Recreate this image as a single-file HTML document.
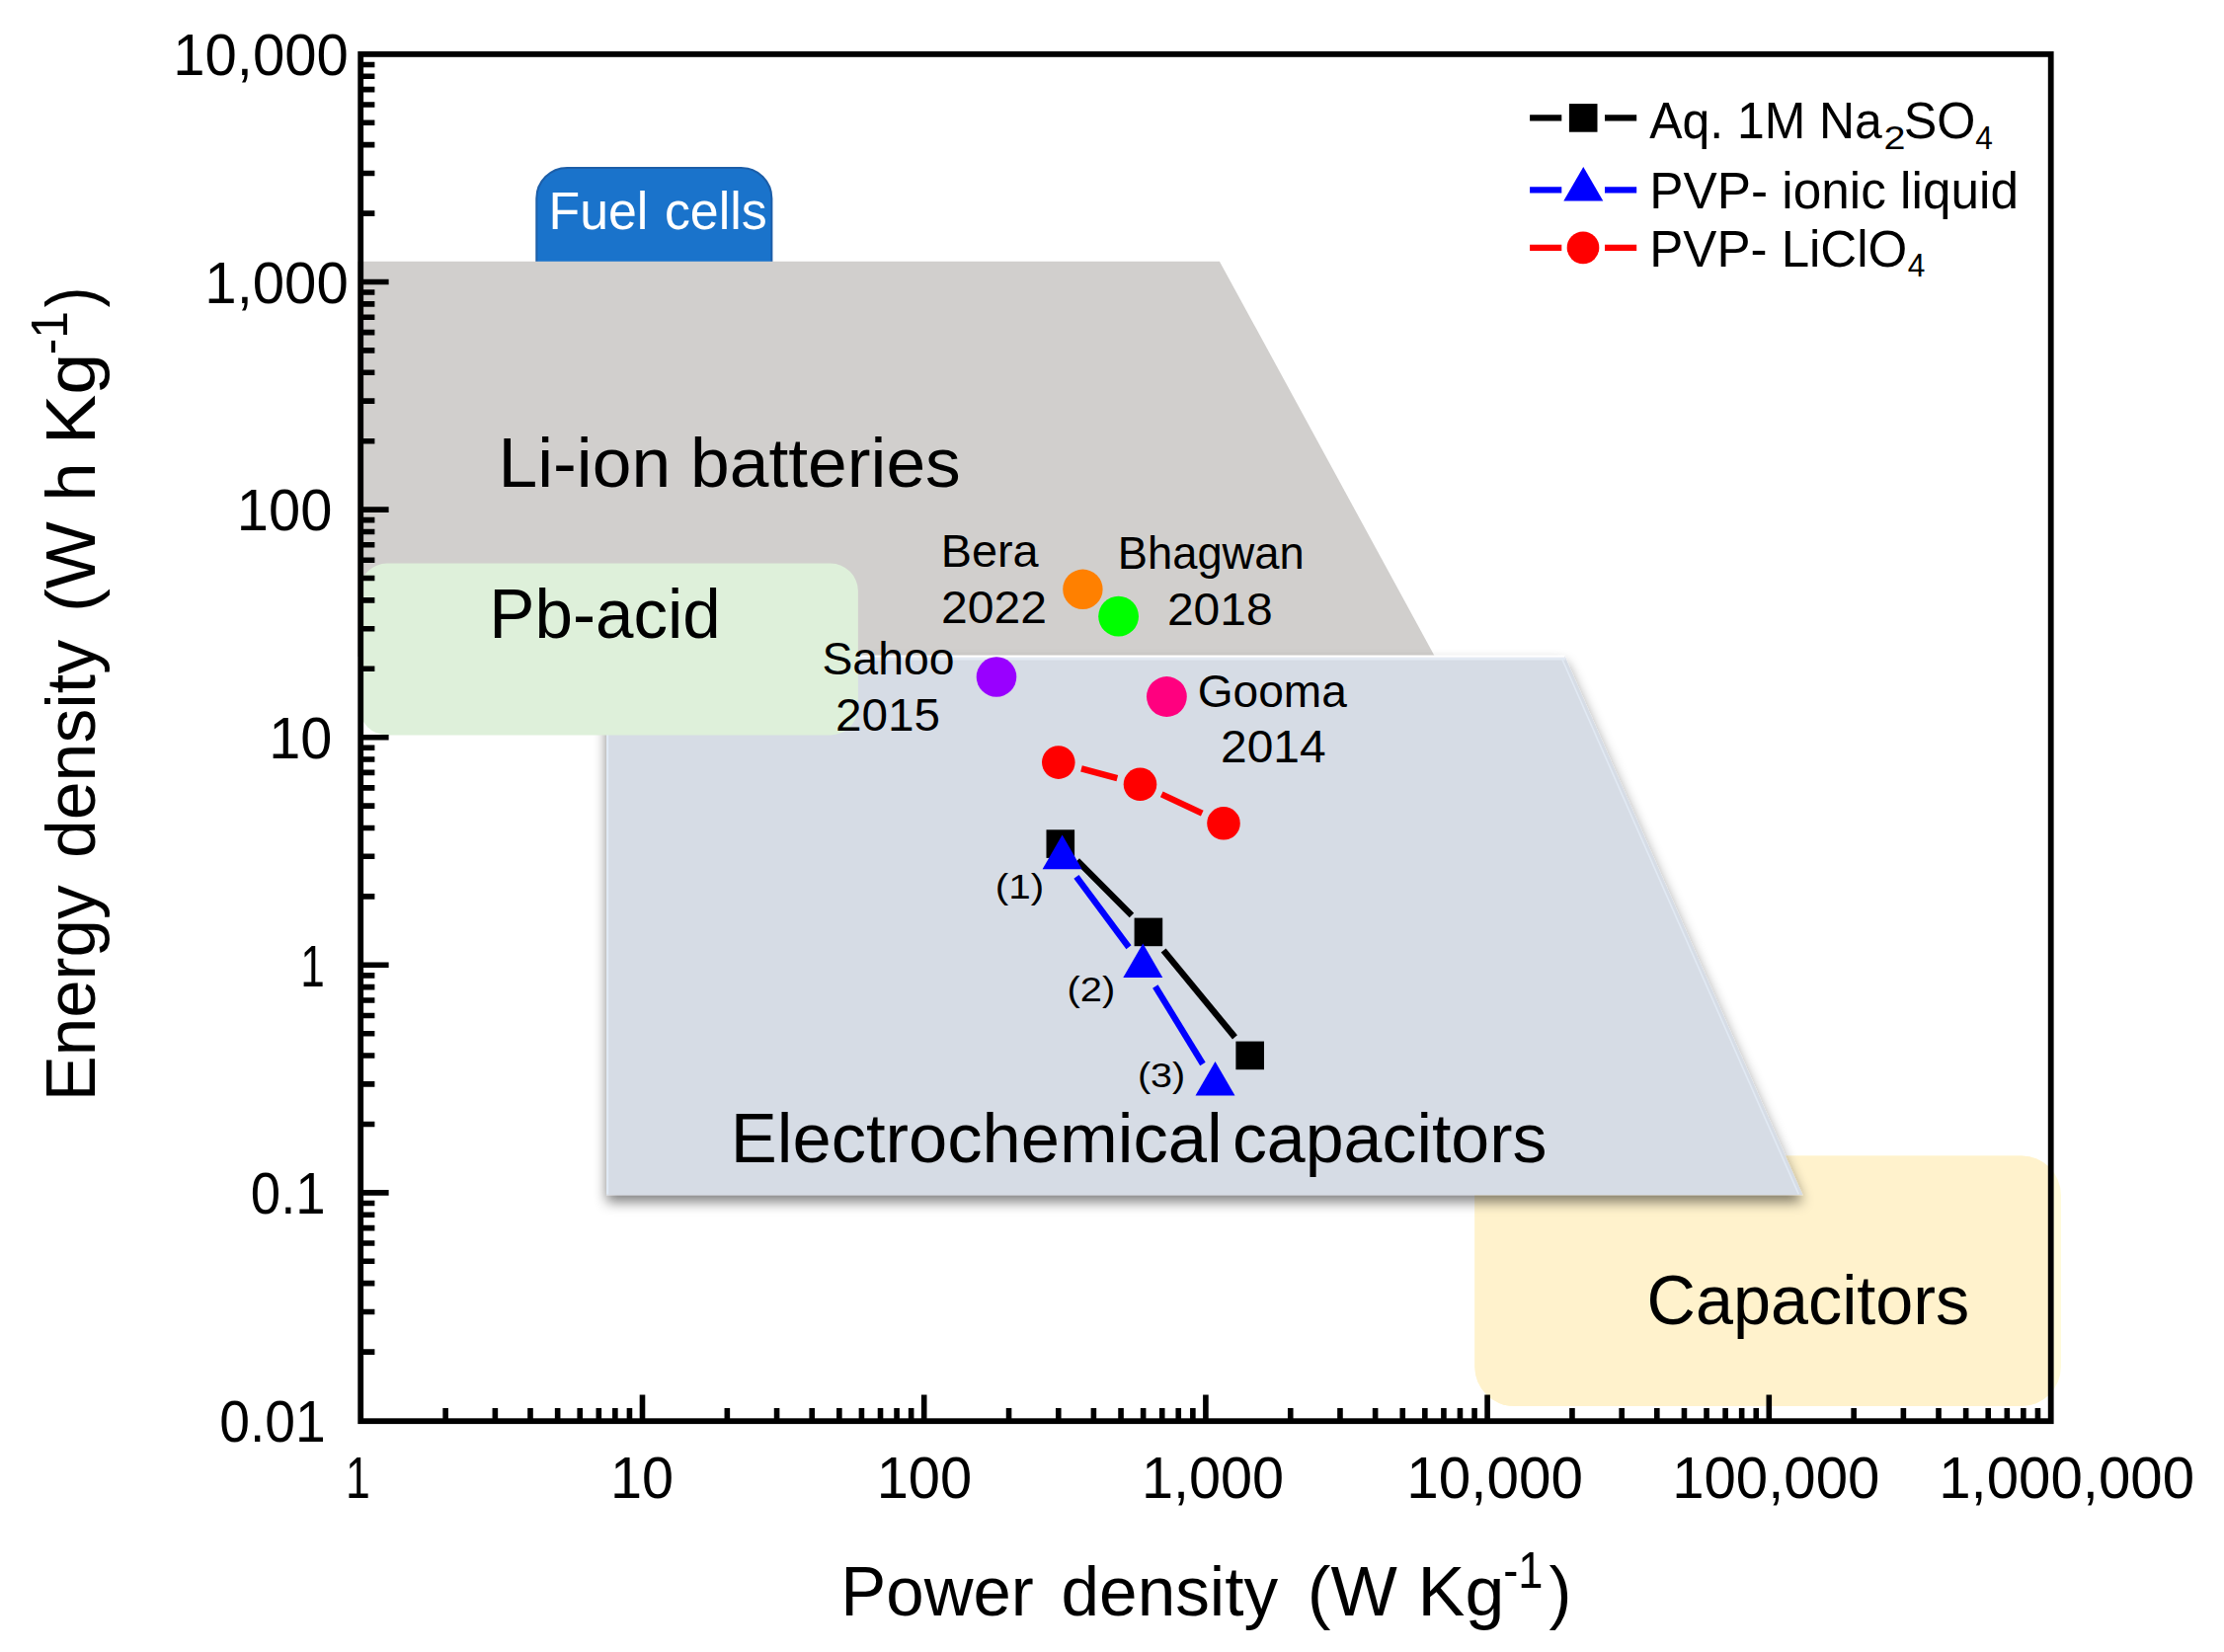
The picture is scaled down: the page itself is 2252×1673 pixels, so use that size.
<!DOCTYPE html>
<html lang="en"><head><meta charset="utf-8"><title>Ragone plot</title>
<style>html,body{margin:0;padding:0;background:#fff}body{width:2252px;height:1673px;overflow:hidden}svg{display:block}text{white-space:pre}</style>
</head><body>
<svg width="2252" height="1673" viewBox="0 0 2252 1673" font-family="'Liberation Sans', Arial, sans-serif">
<defs>
<filter id="sh" x="-5%" y="-5%" width="110%" height="112%">
<feGaussianBlur in="SourceAlpha" stdDeviation="6.5"/>
<feOffset dx="0" dy="7" result="b"/>
<feComponentTransfer><feFuncA type="linear" slope="0.5"/></feComponentTransfer>
<feMerge><feMergeNode/><feMergeNode in="SourceGraphic"/></feMerge>
</filter>
</defs>
<rect width="2252" height="1673" fill="#fff"/>
<path d="M543.3 266 V200.9 A31 31 0 0 1 574.3 169.9 H750.4 A31 31 0 0 1 781.4 200.9 V266 Z" fill="#1a73cb" stroke="#1c5ea8" stroke-width="2"/>
<polygon points="362,264.7 1234.9,264.7 1453,665 362,665" fill="#d1cfcd"/>
<clipPath id="cin"><rect x="0" y="0" width="2076.7" height="1673"/></clipPath>
<rect x="1493.3" y="1170.4" width="593.6" height="253.6" rx="40" ry="40" fill="#fffbd8"/>
<rect x="1493.3" y="1170.4" width="593.6" height="253.6" rx="40" ry="40" fill="#fff2cc" clip-path="url(#cin)"/>
<g filter="url(#sh)"><polygon points="614.2,664.5 1584.5,664.5 1825.6,1210.2 614.2,1210.2" fill="#d6dce5"/></g>
<line x1="614.2" y1="664.6" x2="1584.5" y2="664.6" stroke="#fff" stroke-width="2.4"/>
<line x1="614.2" y1="667.2" x2="1585.5" y2="667.2" stroke="#e3eaf3" stroke-width="2.6"/>
<line x1="1581.6" y1="667" x2="1821.3" y2="1209.4" stroke="#e1e9f3" stroke-width="1.6"/>
<line x1="615.2" y1="666" x2="615.2" y2="1209.4" stroke="#e1ebf6" stroke-width="2"/>
<rect x="364" y="570.6" width="504.9" height="173.8" rx="28" ry="28" fill="#def0da"/>
<text transform="translate(555.52,231.60) scale(0.9786,1)" font-size="53" fill="#fff" >Fuel</text>
<text transform="translate(672.89,231.60) scale(0.9804,1)" font-size="53" fill="#fff" >cells</text>
<text transform="translate(504.51,493.10) scale(1.0059,1)" font-size="71" fill="#000" >Li-ion batteries</text>
<text transform="translate(495.29,645.50) scale(0.9744,1)" font-size="71" fill="#000" >Pb-acid</text>
<text transform="translate(739.68,1176.60) scale(0.9938,1)" font-size="71" fill="#000" >Electrochemical</text>
<text transform="translate(1247.93,1176.60) scale(0.9843,1)" font-size="71" fill="#000" >capacitors</text>
<text transform="translate(1667.58,1341.00) scale(0.9767,1)" font-size="70" fill="#000" >Capacitors</text>
<text transform="translate(1007.87,910.20) scale(1.1558,1)" font-size="35" fill="#000" >(1)</text>
<text transform="translate(1080.51,1014.00) scale(1.1403,1)" font-size="35" fill="#000" >(2)</text>
<text transform="translate(1151.93,1100.80) scale(1.1299,1)" font-size="35" fill="#000" >(3)</text>
<g stroke="#000" stroke-width="5.8" fill="none">
<rect x="365.2" y="54.9" width="1711.50" height="1384.30"/>
<path stroke-width="5.6" d="M365.30 1369.08H379.4M365.30 1328.48H379.4M365.30 1299.66H379.4M365.30 1277.32H379.4M365.30 1259.06H379.4M365.30 1243.62H379.4M365.30 1230.25H379.4M365.30 1218.45H379.4M365.30 1207.90H393.6M365.30 1138.48H379.4M365.30 1097.88H379.4M365.30 1069.06H379.4M365.30 1046.72H379.4M365.30 1028.46H379.4M365.30 1013.02H379.4M365.30 999.65H379.4M365.30 987.85H379.4M365.30 977.30H393.6M365.30 907.88H379.4M365.30 867.28H379.4M365.30 838.46H379.4M365.30 816.12H379.4M365.30 797.86H379.4M365.30 782.42H379.4M365.30 769.05H379.4M365.30 757.25H379.4M365.30 746.70H393.6M365.30 677.28H379.4M365.30 636.68H379.4M365.30 607.86H379.4M365.30 585.52H379.4M365.30 567.26H379.4M365.30 551.82H379.4M365.30 538.45H379.4M365.30 526.65H379.4M365.30 516.10H393.6M365.30 446.68H379.4M365.30 406.08H379.4M365.30 377.26H379.4M365.30 354.92H379.4M365.30 336.66H379.4M365.30 321.22H379.4M365.30 307.85H379.4M365.30 296.05H379.4M365.30 285.50H393.6M365.30 216.08H379.4M365.30 175.48H379.4M365.30 146.66H379.4M365.30 124.32H379.4M365.30 106.06H379.4M365.30 90.62H379.4M365.30 77.25H379.4M365.30 65.45H379.4"/>
<path stroke-width="5.6" d="M451.15 1438.50V1426.0M501.37 1438.50V1426.0M537.01 1438.50V1426.0M564.65 1438.50V1426.0M587.23 1438.50V1426.0M606.32 1438.50V1426.0M622.86 1438.50V1426.0M637.45 1438.50V1426.0M650.50 1438.50V1412.6M736.35 1438.50V1426.0M786.57 1438.50V1426.0M822.21 1438.50V1426.0M849.85 1438.50V1426.0M872.43 1438.50V1426.0M891.52 1438.50V1426.0M908.06 1438.50V1426.0M922.65 1438.50V1426.0M935.70 1438.50V1412.6M1021.55 1438.50V1426.0M1071.77 1438.50V1426.0M1107.41 1438.50V1426.0M1135.05 1438.50V1426.0M1157.63 1438.50V1426.0M1176.72 1438.50V1426.0M1193.26 1438.50V1426.0M1207.85 1438.50V1426.0M1220.90 1438.50V1412.6M1306.75 1438.50V1426.0M1356.97 1438.50V1426.0M1392.61 1438.50V1426.0M1420.25 1438.50V1426.0M1442.83 1438.50V1426.0M1461.92 1438.50V1426.0M1478.46 1438.50V1426.0M1493.05 1438.50V1426.0M1506.10 1438.50V1412.6M1591.95 1438.50V1426.0M1642.17 1438.50V1426.0M1677.81 1438.50V1426.0M1705.45 1438.50V1426.0M1728.03 1438.50V1426.0M1747.12 1438.50V1426.0M1763.66 1438.50V1426.0M1778.25 1438.50V1426.0M1791.30 1438.50V1412.6M1877.15 1438.50V1426.0M1927.37 1438.50V1426.0M1963.01 1438.50V1426.0M1990.65 1438.50V1426.0M2013.23 1438.50V1426.0M2032.32 1438.50V1426.0M2048.86 1438.50V1426.0M2063.45 1438.50V1426.0"/>
</g>
<text transform="translate(175.25,76.10) scale(0.9677,1)" font-size="60" fill="#000" >10,000</text>
<text transform="translate(207.34,306.70) scale(0.9686,1)" font-size="60" fill="#000" >1,000</text>
<text transform="translate(239.86,537.30) scale(0.9636,1)" font-size="60" fill="#000" >100</text>
<text transform="translate(272.28,767.90) scale(0.9607,1)" font-size="60" fill="#000" >10</text>
<text transform="translate(304.19,998.50) scale(0.7360,1)" font-size="60" fill="#000" >1</text>
<text transform="translate(253.82,1229.10) scale(0.9085,1)" font-size="60" fill="#000" >0.1</text>
<text transform="translate(222.19,1459.70) scale(0.9206,1)" font-size="60" fill="#000" >0.01</text>
<text transform="translate(350.05,1516.50) scale(0.7437,1)" font-size="60" fill="#000" >1</text>
<text transform="translate(617.98,1516.50) scale(0.9607,1)" font-size="60" fill="#000" >10</text>
<text transform="translate(887.66,1516.50) scale(0.9646,1)" font-size="60" fill="#000" >100</text>
<text transform="translate(1155.98,1516.50) scale(0.9603,1)" font-size="60" fill="#000" >1,000</text>
<text transform="translate(1424.32,1516.50) scale(0.9734,1)" font-size="60" fill="#000" >10,000</text>
<text transform="translate(1693.24,1516.50) scale(0.9686,1)" font-size="60" fill="#000" >100,000</text>
<text transform="translate(1963.13,1516.50) scale(0.9700,1)" font-size="60" fill="#000" >1,000,000</text>
<text transform="translate(851.31,1636.40) scale(0.9853,1)" font-size="70" fill="#000" >Power</text>
<text transform="translate(1074.55,1636.40) scale(0.9905,1)" font-size="70" fill="#000" >density</text>
<text transform="translate(1323.74,1636.40) scale(1.0189,1)" font-size="70" fill="#000" >(W</text>
<text transform="translate(1435.58,1636.40) scale(1.0249,1)" font-size="70" fill="#000" >Kg</text>
<text transform="translate(1522.16,1608.30) scale(0.8879,1)" font-size="51" fill="#000" >-1</text>
<text transform="translate(1568.48,1636.40) scale(0.9811,1)" font-size="70" fill="#000" >)</text>
<text transform="translate(95.6,0) rotate(-90) translate(-1115.30,0.00) scale(0.9871,1)" font-size="70" fill="#000" >Energy</text>
<text transform="translate(95.6,0) rotate(-90) translate(-868.96,0.00) scale(0.9965,1)" font-size="70" fill="#000" >density</text>
<text transform="translate(95.6,0) rotate(-90) translate(-620.10,0.00) scale(1.0283,1)" font-size="70" fill="#000" >(W</text>
<text transform="translate(95.6,0) rotate(-90) translate(-507.67,0.00) scale(1.0144,1)" font-size="70" fill="#000" >h</text>
<text transform="translate(95.6,0) rotate(-90) translate(-450.35,0.00) scale(1.0819,1)" font-size="70" fill="#000" >Kg</text>
<text transform="translate(95.6,0) rotate(-90) translate(-359.34,-28.10) scale(0.9742,1)" font-size="51" fill="#000" >-1</text>
<text transform="translate(95.6,0) rotate(-90) translate(-311.26,0.00) scale(0.8787,1)" font-size="70" fill="#000" >)</text>
<line x1="1090.75" y1="871.59" x2="1145.95" y2="926.91" stroke="#000" stroke-width="6.4"/>
<line x1="1178.14" y1="962.44" x2="1250.46" y2="1050.36" stroke="#000" stroke-width="6.4"/>
<rect x="1059.50" y="840.30" width="28.6" height="28.6" fill="#000"/>
<rect x="1148.60" y="929.60" width="28.6" height="28.6" fill="#000"/>
<rect x="1251.40" y="1054.60" width="28.6" height="28.6" fill="#000"/>
<line x1="1089.92" y1="887.86" x2="1142.98" y2="959.24" stroke="#0000ff" stroke-width="6.4"/>
<line x1="1169.84" y1="998.97" x2="1217.96" y2="1077.53" stroke="#0000ff" stroke-width="6.4"/>
<polygon points="1075.60,845.51 1055.60,880.15 1095.60,880.15" fill="#0000ff"/>
<polygon points="1157.30,955.41 1137.30,990.05 1177.30,990.05" fill="#0000ff"/>
<polygon points="1230.50,1074.91 1210.50,1109.55 1250.50,1109.55" fill="#0000ff"/>
<line x1="1094.98" y1="778.32" x2="1131.32" y2="788.08" stroke="#ff0000" stroke-width="6.4"/>
<line x1="1176.24" y1="804.46" x2="1217.26" y2="823.64" stroke="#ff0000" stroke-width="6.4"/>
<circle cx="1071.80" cy="772.10" r="16.8" fill="#ff0000"/>
<circle cx="1154.50" cy="794.30" r="16.8" fill="#ff0000"/>
<circle cx="1239.00" cy="833.80" r="16.8" fill="#ff0000"/>
<circle cx="1096.40" cy="596.80" r="20.2" fill="#ff8000"/>
<circle cx="1132.60" cy="624.20" r="20.4" fill="#00ff00"/>
<circle cx="1009.00" cy="685.50" r="20.3" fill="#9900ff"/>
<circle cx="1181.40" cy="705.50" r="20.4" fill="#ff007f"/>
<text transform="translate(952.74,574.00) scale(0.9968,1)" font-size="47" fill="#000" >Bera</text>
<text transform="translate(952.99,631.10) scale(1.0235,1)" font-size="47" fill="#000" >2022</text>
<text transform="translate(1131.76,576.00) scale(0.9647,1)" font-size="47" fill="#000" >Bhagwan</text>
<text transform="translate(1181.90,633.00) scale(1.0219,1)" font-size="47" fill="#000" >2018</text>
<text transform="translate(832.41,683.40) scale(0.9868,1)" font-size="47" fill="#000" >Sahoo</text>
<text transform="translate(845.92,740.10) scale(1.0147,1)" font-size="47" fill="#000" >2015</text>
<text transform="translate(1212.69,715.70) scale(0.9815,1)" font-size="47" fill="#000" >Gooma</text>
<text transform="translate(1236.00,772.40) scale(1.0207,1)" font-size="47" fill="#000" >2014</text>
<path d="M1549.1 119.4H1581.3M1625 119.4H1657.2" stroke="#000" stroke-width="6.4"/>
<rect x="1588.90" y="105.10" width="28.6" height="28.6" fill="#000"/>
<path d="M1549.1 192.4H1581.3M1625 192.4H1657.2" stroke="#0000ff" stroke-width="6.4"/>
<polygon points="1603.30,168.91 1583.30,203.55 1623.30,203.55" fill="#0000ff"/>
<path d="M1549.1 250.9H1581.3M1625 250.9H1657.2" stroke="#ff0000" stroke-width="6.4"/>
<circle cx="1603.00" cy="250.90" r="16.3" fill="#ff0000"/>
<text transform="translate(1670.18,140.40) scale(0.9786,1)" font-size="51" fill="#000" >Aq. 1M Na</text>
<text transform="translate(1907.52,150.50) scale(1.1988,1)" font-size="33" fill="#000" >2</text>
<text transform="translate(1927.74,140.40) scale(0.9858,1)" font-size="51" fill="#000" >SO</text>
<text transform="translate(2000.29,150.50) scale(0.9601,1)" font-size="33" fill="#000" >4</text>
<text transform="translate(1670.27,211.40) scale(1.0064,1)" font-size="51" fill="#000" >PVP- ionic liquid</text>
<text transform="translate(1670.29,270.00) scale(1.0015,1)" font-size="51" fill="#000" >PVP- LiClO</text>
<text transform="translate(1931.79,280.00) scale(0.9601,1)" font-size="33" fill="#000" >4</text>
</svg>
</body></html>
